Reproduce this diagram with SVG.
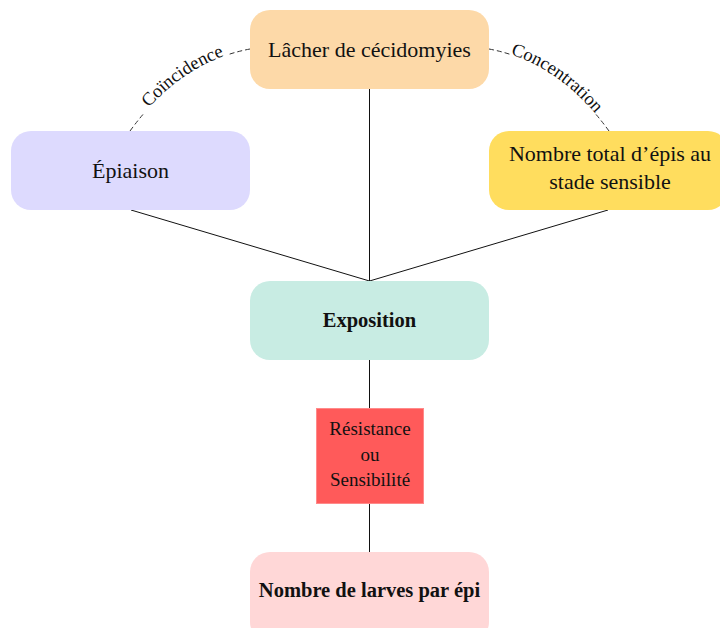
<svg xmlns="http://www.w3.org/2000/svg" width="720" height="628" viewBox="0 0 720 628">
  <style>
    .box { stroke: none; }
    .t { font-family: "Liberation Serif", "Times New Roman", serif; fill: #111; text-anchor: middle; }
    .reg { font-size: 22px; }
    .bold { font-size: 20.5px; font-weight: bold; }
    .small { font-size: 19px; }
    .link { stroke: #111; stroke-width: 1; fill: none; }
    .dash { stroke: #333; stroke-width: 1; fill: none; stroke-dasharray: 5 3 5 3 5 2 0 105 5 3 5 3 5 3 5 30; }
    .lbl { font-family: "Liberation Serif", "Times New Roman", serif; font-size: 18.5px; fill: #111; }
  </style>
  <defs>
    <path id="arcLeft" d="M130,131 Q180,62 250,49"/>
    <path id="arcRight" d="M489,49 Q559,62 609,131"/>
  </defs>
  <rect width="720" height="628" fill="#fff"/>

  <!-- connectors -->
  <g id="connectors">
    <line class="link" x1="369.5" y1="89" x2="369.5" y2="281"/>
    <line class="link" x1="131" y1="210" x2="369.5" y2="281"/>
    <line class="link" x1="608" y1="210" x2="369.5" y2="281"/>
    <line class="link" x1="369.5" y1="360" x2="369.5" y2="408"/>
    <line class="link" x1="369.5" y1="503" x2="369.5" y2="552"/>
    <!-- dashed arcs leave a gap where the label sits -->
    <path class="dash" pathLength="149" d="M130,131 Q180,62 250,49"/>
    <path class="dash" pathLength="149" d="M489,49 Q559,62 609,131"/>
    <text class="lbl"><textPath href="#arcLeft" startOffset="51%" text-anchor="middle">Coïncidence</textPath></text>
    <text class="lbl"><textPath href="#arcRight" startOffset="50%" text-anchor="middle">Concentration</textPath></text>
  </g>

  <g id="lacher">
    <rect class="box" x="250" y="10" width="239" height="79" rx="20" fill="#fdd9a8"/>
    <text class="t reg" x="369.5" y="57">Lâcher de cécidomyies</text>
  </g>

  <g id="epiaison">
    <rect class="box" x="11" y="131" width="239" height="79" rx="20" fill="#dddafe"/>
    <text class="t reg" x="130.5" y="178">Épiaison</text>
  </g>

  <g id="nombre-epis">
    <rect class="box" x="489" y="131" width="239" height="79" rx="20" fill="#ffdd5e"/>
    <text class="t reg" x="610" y="161">Nombre total d’épis au</text>
    <text class="t reg" x="610" y="189">stade sensible</text>
  </g>

  <g id="exposition">
    <rect class="box" x="250" y="281" width="239" height="79" rx="20" fill="#c8ece3"/>
    <text class="t bold" x="369.5" y="327">Exposition</text>
  </g>

  <g id="resistance">
    <rect x="316.5" y="408.5" width="107" height="95" fill="#ff5a5a" stroke="#ff8a8a" stroke-width="1"/>
    <text class="t small" x="370" y="435">Résistance</text>
    <text class="t small" x="370" y="461">ou</text>
    <text class="t small" x="370" y="486">Sensibilité</text>
  </g>

  <g id="larves">
    <rect class="box" x="250" y="552" width="239" height="90" rx="20" fill="#ffd7d7"/>
    <text class="t bold" x="369.5" y="597">Nombre de larves par épi</text>
  </g>
</svg>
